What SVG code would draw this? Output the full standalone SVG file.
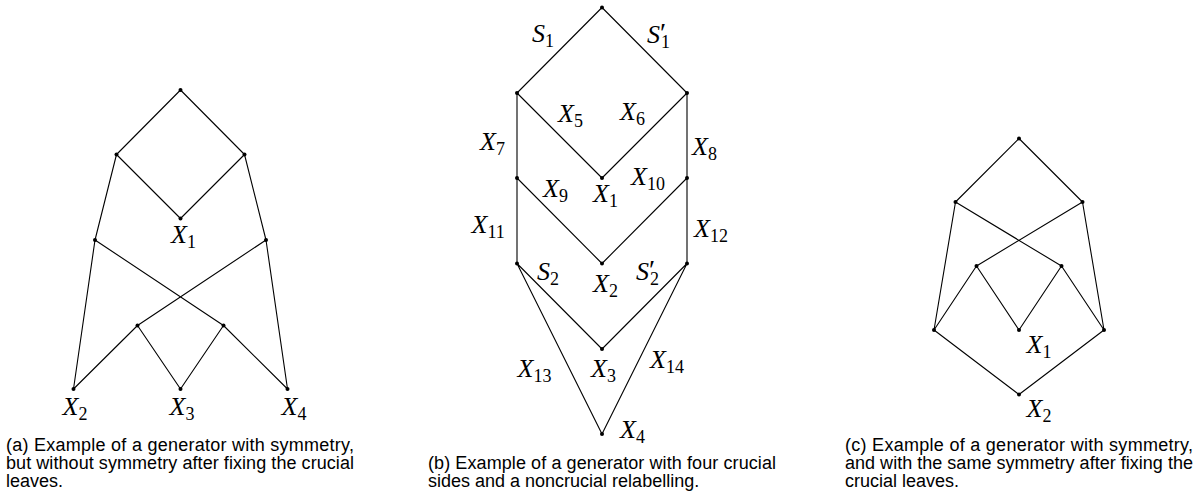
<svg xmlns="http://www.w3.org/2000/svg" width="1203" height="499" viewBox="0 0 1203 499">
<style>
.e{stroke:#000;stroke-width:1.1;fill:none;stroke-linecap:round}
.n{fill:#000}
.m{font-family:"Liberation Serif","Times New Roman",serif;font-style:italic;font-size:26px;fill:#000}
.s{font-style:normal;font-size:18px}
.p{font-style:normal;font-size:28px}
.cap{font-family:"Liberation Sans",Arial,sans-serif;font-size:18px;fill:#000}
</style>
<rect width="1203" height="499" fill="#fff"/>
<g id="connectors">
<!-- (a) -->
<path class="e" d="M180.5,90 L116.5,154.5 M180.5,90 L244.5,154.5 M116.5,154.5 L180.5,218.5 M244.5,154.5 L180.5,218.5 M116.5,154.5 L95,240 M244.5,154.5 L266,240 M95,240 L73.5,389 M266,240 L287.5,389 M95,240 L223.5,325.5 M266,240 L137.5,325.5 M137.5,325.5 L73.5,389 M137.5,325.5 L180.5,389 M223.5,325.5 L180.5,389 M223.5,325.5 L287.5,389"/>
<!-- (b) -->
<path class="e" d="M602,7.5 L517,93 M602,7.5 L687,93 M517,93 L602,178 M687,93 L602,178 M517,93 L517,178 M687,93 L687,178 M517,178 L602,263.5 M687,178 L602,263.5 M517,178 L517,263.5 M687,178 L687,263.5 M517,263.5 L602,349 M687,263.5 L602,349 M517,263.5 L602,434 M687,263.5 L602,434"/>
<!-- (c) -->
<path class="e" d="M1019,138.5 L955.5,202 M1019,138.5 L1082.5,202 M955.5,202 L934,330 M1082.5,202 L1104,330 M955.5,202 L1061.5,266 M1082.5,202 L976.5,266 M976.5,266 L934,330 M976.5,266 L1019,330 M1061.5,266 L1019,330 M1061.5,266 L1104,330 M934,330 L1019,394.5 M1104,330 L1019,394.5"/>
<g id="edge-labels" class="m">
<text x="532" y="41.7">S<tspan class="s" dy="5">1</tspan></text>
<text x="647" y="43">S<tspan class="p" x="660" dy="-1">′</tspan><tspan class="s" x="661" dy="6">1</tspan></text>
<text x="558" y="121.7">X<tspan class="s" dy="5">5</tspan></text>
<text x="620" y="120">X<tspan class="s" dy="5">6</tspan></text>
<text x="480" y="150">X<tspan class="s" dy="5">7</tspan></text>
<text x="692" y="155">X<tspan class="s" dy="5">8</tspan></text>
<text x="543" y="196.7">X<tspan class="s" dy="5">9</tspan></text>
<text x="631" y="185">X<tspan class="s" dy="5">10</tspan></text>
<text x="471.5" y="233.3">X<tspan class="s" dy="5">11</tspan></text>
<text x="694" y="236.7">X<tspan class="s" dy="5">12</tspan></text>
<text x="537" y="280">S<tspan class="s" dy="5">2</tspan></text>
<text x="636" y="280">S<tspan class="p" x="649" dy="-1">′</tspan><tspan class="s" x="650" dy="6">2</tspan></text>
<text x="517.5" y="376.7">X<tspan class="s" dy="5">13</tspan></text>
<text x="650" y="368.3">X<tspan class="s" dy="5">14</tspan></text>
</g>
</g>
<g id="a-top"><circle class="n" cx="180.5" cy="90" r="2"/></g>
<g id="a-lu"><circle class="n" cx="116.5" cy="154.5" r="2"/></g>
<g id="a-ru"><circle class="n" cx="244.5" cy="154.5" r="2"/></g>
<g id="a-x1"><circle class="n" cx="180.5" cy="218.5" r="2"/><text class="m" x="171" y="243.3">X<tspan class="s" dy="5">1</tspan></text></g>
<g id="a-lm"><circle class="n" cx="95" cy="240" r="2"/></g>
<g id="a-rm"><circle class="n" cx="266" cy="240" r="2"/></g>
<g id="a-ll"><circle class="n" cx="137.5" cy="325.5" r="2"/></g>
<g id="a-rl"><circle class="n" cx="223.5" cy="325.5" r="2"/></g>
<g id="a-x2"><circle class="n" cx="73.5" cy="389" r="2"/><text class="m" x="62.5" y="415">X<tspan class="s" dy="5">2</tspan></text></g>
<g id="a-x3"><circle class="n" cx="180.5" cy="389" r="2"/><text class="m" x="169.5" y="415">X<tspan class="s" dy="5">3</tspan></text></g>
<g id="a-x4"><circle class="n" cx="287.5" cy="389" r="2"/><text class="m" x="281.5" y="415">X<tspan class="s" dy="5">4</tspan></text></g>

<g id="b-top"><circle class="n" cx="602" cy="7.5" r="2"/></g>
<g id="b-l1"><circle class="n" cx="517" cy="93" r="2"/></g>
<g id="b-r1"><circle class="n" cx="687" cy="93" r="2"/></g>
<g id="b-x1"><circle class="n" cx="602" cy="178" r="2"/><text class="m" x="593" y="201.7">X<tspan class="s" dy="5">1</tspan></text></g>
<g id="b-l2"><circle class="n" cx="517" cy="178" r="2"/></g>
<g id="b-r2"><circle class="n" cx="687" cy="178" r="2"/></g>
<g id="b-l3"><circle class="n" cx="517" cy="263.5" r="2"/></g>
<g id="b-r3"><circle class="n" cx="687" cy="263.5" r="2"/></g>
<g id="b-x2"><circle class="n" cx="602" cy="263.5" r="2"/><text class="m" x="593" y="291.7">X<tspan class="s" dy="5">2</tspan></text></g>
<g id="b-x3"><circle class="n" cx="602" cy="349" r="2"/><text class="m" x="591" y="376.7">X<tspan class="s" dy="5">3</tspan></text></g>
<g id="b-x4"><circle class="n" cx="602" cy="434" r="2"/><text class="m" x="620" y="438.3">X<tspan class="s" dy="5">4</tspan></text></g>

<g id="c-top"><circle class="n" cx="1019" cy="138.5" r="2"/></g>
<g id="c-lu"><circle class="n" cx="955.5" cy="202" r="2"/></g>
<g id="c-ru"><circle class="n" cx="1082.5" cy="202" r="2"/></g>
<g id="c-lm"><circle class="n" cx="976.5" cy="266" r="2"/></g>
<g id="c-rm"><circle class="n" cx="1061.5" cy="266" r="2"/></g>
<g id="c-ll"><circle class="n" cx="934" cy="330" r="2"/></g>
<g id="c-rl"><circle class="n" cx="1104" cy="330" r="2"/></g>
<g id="c-x1"><circle class="n" cx="1019" cy="330" r="2"/><text class="m" x="1026.5" y="353.3">X<tspan class="s" dy="5">1</tspan></text></g>
<g id="c-x2"><circle class="n" cx="1019" cy="394.5" r="2"/><text class="m" x="1026.5" y="416.7">X<tspan class="s" dy="5">2</tspan></text></g>

<g id="captions" class="cap">
<text x="6" y="451" textLength="348" lengthAdjust="spacing">(a) Example of a generator with symmetry,</text>
<text x="6" y="469" textLength="348" lengthAdjust="spacing">but without symmetry after fixing the crucial</text>
<text x="6" y="487">leaves.</text>
<text x="428" y="469" textLength="348" lengthAdjust="spacing">(b) Example of a generator with four crucial</text>
<text x="428" y="487">sides and a noncrucial relabelling.</text>
<text x="845" y="451" textLength="348" lengthAdjust="spacing">(c) Example of a generator with symmetry,</text>
<text x="845" y="469" textLength="348" lengthAdjust="spacing">and with the same symmetry after fixing the</text>
<text x="845" y="487">crucial leaves.</text>
</g>
</svg>
